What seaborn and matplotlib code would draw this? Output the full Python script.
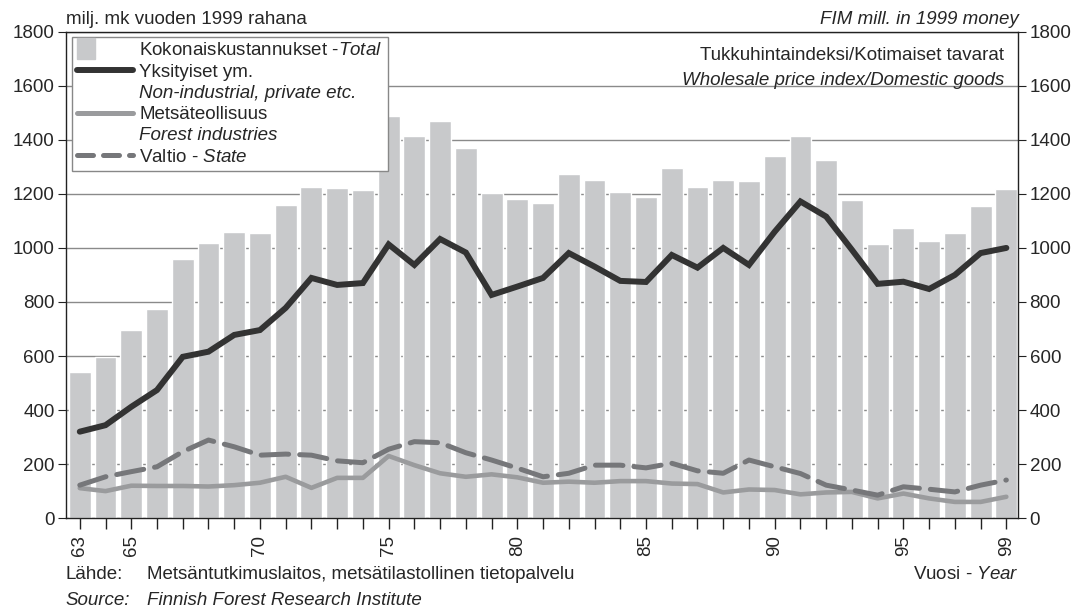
import numpy as np
import pandas as pd
import matplotlib.pyplot as plt
import matplotlib.patches as mpatches
from matplotlib.lines import Line2D
from matplotlib.legend_handler import HandlerPatch
import seaborn as sns

years = list(range(1963, 2000))
total = [540, 595, 695, 775, 960, 1020, 1060, 1055, 1160, 1225, 1220, 1215, 1490,
         1415, 1470, 1370, 1205, 1180, 1165, 1275, 1250, 1207, 1190, 1296, 1226,
         1252, 1249, 1342, 1416, 1326, 1178, 1015, 1074, 1027, 1055, 1157, 1219]
private = [320, 344, 412, 474, 597, 616, 678, 696, 778, 889, 863, 870, 1013,
           937, 1033, 983, 826, 857, 889, 981, 931, 878, 874, 974, 927,
           1000, 937, 1060, 1172, 1116, 993, 867, 875, 848, 900, 981, 1000]
industry = [111, 100, 120, 119, 119, 117, 122, 131, 153, 112, 149, 149, 230,
            196, 166, 153, 162, 151, 131, 135, 131, 137, 137, 128, 126,
            95, 106, 104, 88, 95, 97, 73, 91, 73, 60, 60, 79]
state = [122, 153, 172, 190, 246, 289, 264, 233, 237, 233, 212, 205, 255,
         283, 279, 242, 215, 185, 153, 166, 196, 196, 186, 203, 175,
         166, 215, 190, 165, 122, 104, 85, 116, 107, 97, 122, 141]
labelled_years = [1963, 1965, 1970, 1975, 1980, 1985, 1990, 1995, 1999]

df = pd.DataFrame({'year': years, 'total': total, 'private': private,
                   'industry': industry, 'state': state})

sns.set_style('ticks')
plt.rcParams['font.family'] = ['Liberation Sans', 'DejaVu Sans']
plt.rcParams['mathtext.fontset'] = 'custom'
plt.rcParams['mathtext.rm'] = 'Liberation Sans'
plt.rcParams['mathtext.it'] = 'Liberation Sans:italic'

BAR = '#c8c9cb'
DARK = '#333333'
LIGHT = '#9a9b9d'
MID = '#76777a'
FS = 13.5

fig = plt.figure(figsize=(10.8, 6.11), dpi=100)
ax = fig.add_axes([0.061, 0.152, 0.882, 0.796])

ax.set_axisbelow(True)
ax.grid(axis='y', color='#8a8a8a', lw=1)

sns.barplot(data=df, x='year', y='total', native_scale=True, color=BAR,
            saturation=1, width=0.85, ax=ax)
sns.lineplot(data=df, x='year', y='private', color=DARK, lw=4.3, ax=ax,
             solid_joinstyle='miter')
sns.lineplot(data=df, x='year', y='industry', color=LIGHT, lw=3.3, ax=ax,
             solid_capstyle='round')
sns.lineplot(data=df, x='year', y='state', color=MID, lw=3.6, ax=ax,
             linestyle=(0, (5.5, 2.2)), dash_capstyle='round')

ax.set_xlim(1962.46, 1999.47)
ax.set_ylim(0, 1800)
ax.set_yticks(range(0, 1801, 200))
ax.set_xticks(years)
ax.set_xticklabels([str(y)[2:] if y in labelled_years else '' for y in years],
                   rotation=90, fontsize=FS)
ax.tick_params(axis='y', labelsize=FS, right=True, labelright=True, length=6,
               pad=2, color='#222222')
ax.tick_params(axis='x', length=8, width=1, pad=4, color='#222222')
ax.set_xlabel('')
ax.set_ylabel('')
for s in ax.spines.values():
    s.set_color('#222222')
    s.set_linewidth(1)


def small_box(legend, orig_handle, xdescent, ydescent, width, height, fontsize):
    return mpatches.Rectangle((-xdescent, -ydescent - 0.3 * height),
                              0.32 * width, 1.6 * height)


blank = Line2D([], [], alpha=0)
handles = [mpatches.Patch(color=BAR),
           Line2D([], [], color=DARK, lw=4.3, solid_capstyle='round'),
           blank,
           Line2D([], [], color=LIGHT, lw=3.6, solid_capstyle='round'),
           blank,
           Line2D([], [], color=MID, lw=3.6, linestyle=(0, (3.2, 2.0)),
                  dash_capstyle='round')]
labels = ['Kokonaiskustannukset -$\\it{Total}$',
          'Yksityiset ym.',
          'Non-industrial, private etc.',
          'Metsäteollisuus',
          'Forest industries',
          'Valtio - $\\it{State}$']
leg = ax.legend(handles, labels, loc='upper left', bbox_to_anchor=(0.006, 0.99),
                borderaxespad=0, fontsize=13.5, frameon=True, fancybox=False,
                framealpha=1, edgecolor='#888888', handlelength=3.0,
                handletextpad=0.3, labelspacing=0.22, borderpad=0.3,
                handler_map={mpatches.Patch: HandlerPatch(patch_func=small_box)})
leg.get_frame().set_linewidth(1)
for i in (2, 4):
    leg.get_texts()[i].set_fontstyle('italic')

ax.text(0.985, 0.952, 'Tukkuhintaindeksi/Kotimaiset tavarat', transform=ax.transAxes,
        ha='right', va='center', fontsize=FS)
ax.text(0.985, 0.9, 'Wholesale price index/Domestic goods', transform=ax.transAxes,
        ha='right', va='center', fontsize=FS, style='italic')

fig.text(0.061, 0.968, 'milj. mk vuoden 1999 rahana', ha='left', va='center', fontsize=FS)
fig.text(0.943, 0.968, 'FIM mill. in 1999 money', ha='right', va='center',
         fontsize=FS, style='italic')
fig.text(0.061, 0.059, 'Lähde:', ha='left', va='center', fontsize=FS)
fig.text(0.136, 0.059, 'Metsäntutkimuslaitos, metsätilastollinen tietopalvelu',
         ha='left', va='center', fontsize=FS)
fig.text(0.061, 0.018, 'Source:', ha='left', va='center', fontsize=FS, style='italic')
fig.text(0.136, 0.018, 'Finnish Forest Research Institute', ha='left', va='center',
         fontsize=FS, style='italic')
fig.text(0.943, 0.059, 'Vuosi - $\\it{Year}$', ha='right', va='center', fontsize=FS)

fig.savefig('out.png', dpi=100)
